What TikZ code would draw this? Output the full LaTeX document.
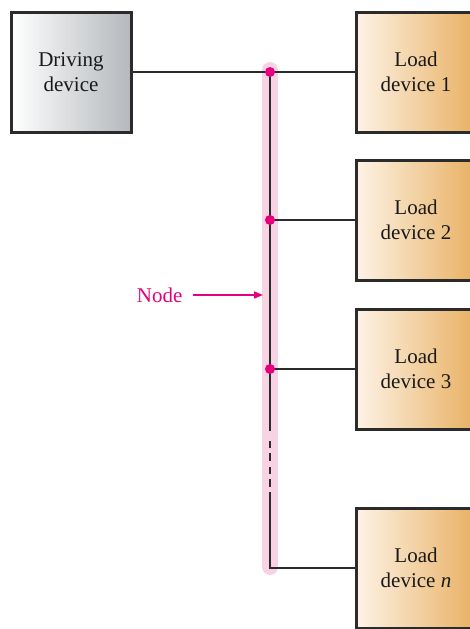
\documentclass[tikz,border=0pt]{standalone}
\usepackage{fontspec}
\setmainfont{Liberation Serif}
\usetikzlibrary{arrows.meta}
\definecolor{wire}{HTML}{2B2B2B}
\definecolor{magenta}{HTML}{E6007E}
\definecolor{band}{HTML}{F8D3E3}
\definecolor{grayR}{HTML}{B4B8BC}
\definecolor{orangeL}{HTML}{FDF3E6}
\definecolor{orangeR}{HTML}{E8B062}
\tikzset{
  box/.style={draw=wire, line width=3pt, minimum width=120pt, minimum height=120pt,
    inner sep=0pt, align=center, font=\fontsize{21}{25}\selectfont, text=black!90},
  drivebox/.style={box, left color=white, right color=grayR},
  loadbox/.style={box, left color=orangeL, right color=orangeR},
  wireline/.style={draw=wire, line width=1.1pt},
  junc/.style={circle, fill=magenta, inner sep=0pt, minimum size=10pt},
}
\begin{document}
\begin{tikzpicture}[x=1pt,y=-1pt]
\useasboundingbox (0,0) rectangle (470,629);
\clip (0,0) rectangle (470,629);
% pink band
\draw[band, line width=16pt, line cap=round] (270,70) -- (270,567);
% boxes
\node[drivebox] (drv) at (71,72) {Driving\\device};
\node[loadbox] (ld1) at (416,72) {Load\\device 1};
\node[loadbox] (ld2) at (416,220) {Load\\device 2};
\node[loadbox] (ld3) at (416,369) {Load\\device 3};
\node[loadbox] (ldn) at (416,568) {Load\\device \textit{n}};
% bus coordinates
\coordinate (j1) at (270,72);
\coordinate (j2) at (270,220);
\coordinate (j3) at (270,369);
\coordinate (d1) at (270,431);
\coordinate (d2) at (270,492);
\coordinate (jn) at (270,568);
% wires
\draw[wireline] (drv.east) -- (j1);
\draw[wireline] (j1) -- (ld1.west);
\draw[wireline] (j2) -- (ld2.west);
\draw[wireline] (j3) -- (ld3.west);
\draw[wireline] (j1) -- (d1);
\draw[wireline, dash pattern=on 0pt off 10pt on 7pt off 5pt on 8pt off 6pt on 7pt off 5pt on 8pt off 5pt] (d1) -- (d2);
\draw[wireline] (d2) -- (jn) -- (ldn.west);
% junction dots
\node[junc] (n1) at (j1) {};
\node[junc] (n2) at (j2) {};
\node[junc] (n3) at (j3) {};
% node label
\node[text=magenta, font=\fontsize{21}{25}\selectfont, anchor=east] (lbl) at (186,295) {Node};
\coordinate (tip) at (263,295);
\draw[magenta, line width=1.6pt, -{Triangle[length=9pt,width=7pt]}] (lbl.east) ++(7,0) -- (tip);
\end{tikzpicture}
\end{document}
